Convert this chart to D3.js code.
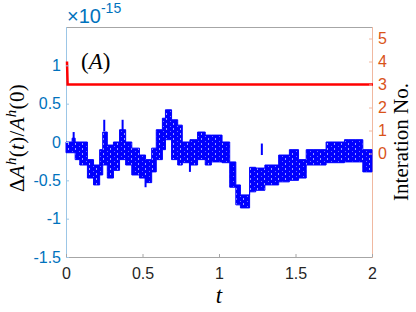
<!DOCTYPE html>
<html lang="en">
<head>
<meta charset="UTF-8">
<title>Delta A over time</title>
<script src="https://d3js.org/d3.v7.min.js"></script>
<style>
  body { margin: 0; background: #fff; }
  svg { display: block; }
  .tick text { font-family: "Liberation Sans", Arial, sans-serif; font-size: 16px; }
  .serif { font-family: "Liberation Serif", "DejaVu Serif", serif; }
</style>
</head>
<body>
<div id="chart"></div>
<script>
// blue series, in units of 1e-15: step segments starting at tStart, band between hi and lo
const tStart = [0, 0.04, 0.06, 0.09, 0.14, 0.18, 0.22, 0.24, 0.27, 0.31,
                0.35, 0.39, 0.43, 0.48, 0.52, 0.56, 0.59, 0.63, 0.65, 0.69,
                0.73, 0.76, 0.81, 0.86, 0.91, 0.95, 1.02, 1.07, 1.11, 1.14,
                1.2, 1.24, 1.3, 1.39, 1.46, 1.52, 1.57, 1.7, 1.82, 1.94];
const hi = [0, 0.05, 0, 0, -0.23, -0.3, -0.1, 0.13, -0.04, 0,
            0.16, 0, -0.08, -0.17, -0.23, -0.08, 0.16, 0.31, 0.42, 0.29,
            0.22, 0, 0.03, 0.13, 0.09, 0.09, 0, -0.26, -0.56, -0.69,
            -0.33, -0.34, -0.3, -0.17, -0.1, -0.23, -0.1, 0, 0.03, -0.1];
const lo = [-0.14, -0.14, -0.23, -0.3, -0.47, -0.56, -0.43, -0.3, -0.47, -0.37,
            -0.23, -0.3, -0.43, -0.47, -0.53, -0.39, -0.23, -0.1, 0.03, -0.23,
            -0.3, -0.27, -0.3, -0.23, -0.3, -0.26, -0.27, -0.59, -0.82, -0.86,
            -0.65, -0.63, -0.56, -0.52, -0.5, -0.47, -0.3, -0.27, -0.26, -0.39];
// isolated spikes
const spikeT = [0.05, 0.25, 0.37, 0.52, 0.81, 1.28];
const spikeV = [0.13, 0.29, 0.29, -0.59, -0.39, -0.17];

// red series: iteration number
const iterT = [0, 0.004, 2];
const iterN = [4, 3, 3];

const xTicks = [0, 0.5, 1, 1.5, 2];
const leftTicks = [-1.5, -1, -0.5, 0, 0.5, 1];
const rightTicks = [0, 1, 2, 3, 4, 5];

const W = 416, H = 312;
const plot = { left: 66, right: 372, top: 27, bottom: 257 };
const blueAx = "#0072BD", redAx = "#D95319";

const svg = d3.select("#chart").append("svg")
  .attr("width", W).attr("height", H);

// speckled fill so the band looks like many overlapping strokes
const pat = svg.append("defs").append("pattern")
  .attr("id", "speckle")
  .attr("patternUnits", "userSpaceOnUse")
  .attr("width", 7).attr("height", 5);
pat.append("rect").attr("width", 7).attr("height", 5).attr("fill", "#0000ff");
pat.append("rect").attr("x", 2).attr("y", 1).attr("width", 1).attr("height", 1).attr("fill", "#7070ff");
pat.append("rect").attr("x", 5).attr("y", 3).attr("width", 1).attr("height", 2).attr("fill", "#a0a0ff");

const x = d3.scaleLinear().domain([0, 2]).range([plot.left, plot.right]);
const yL = d3.scaleLinear().domain([-1.5, 1.5]).range([plot.bottom, plot.top]);
const yR = d3.scaleLinear().domain([-4.5, 5.5]).range([plot.bottom, plot.top]);

// box lines (under the data)
svg.append("line").attr("x1", plot.left).attr("x2", plot.right)
  .attr("y1", plot.top + 0.5).attr("y2", plot.top + 0.5).attr("stroke", "#a6a6a6");
svg.append("line").attr("x1", plot.left).attr("x2", plot.right)
  .attr("y1", plot.bottom + 0.5).attr("y2", plot.bottom + 0.5).attr("stroke", "#a6a6a6");
svg.append("line").attr("x1", plot.left + 0.5).attr("x2", plot.left + 0.5)
  .attr("y1", plot.top).attr("y2", plot.bottom + 1).attr("stroke", "#9cc6e6");
svg.append("line").attr("x1", plot.right + 0.5).attr("x2", plot.right + 0.5)
  .attr("y1", plot.top).attr("y2", plot.bottom + 1).attr("stroke", "#f0b8a0");

// blue band
const rows = tStart.map((t, i) => ({ t: t, hi: hi[i], lo: lo[i] }));
rows.push({ t: 2, hi: hi[hi.length - 1], lo: lo[lo.length - 1] });

const area = d3.area()
  .curve(d3.curveStepAfter)
  .x(d => x(d.t))
  .y0(d => yL(d.lo))
  .y1(d => yL(d.hi));

svg.append("path")
  .datum(rows)
  .attr("fill", "url(#speckle)")
  .attr("stroke", "#0000ff")
  .attr("stroke-width", 1)
  .attr("d", area);

svg.selectAll(".spike")
  .data(spikeT.map((t, i) => ({ t: t, v: spikeV[i] })))
  .enter().append("line")
  .attr("class", "spike")
  .attr("x1", d => x(d.t)).attr("x2", d => x(d.t))
  .attr("y1", d => yL(d.v)).attr("y2", d => yL(d.v < 0 ? d.v + 0.15 : d.v - 0.15))
  .attr("stroke", "#0000ff")
  .attr("stroke-width", 2);

// red line
const redLine = d3.line().x((d, i) => x(iterT[i]) + 1).y(d => yR(d));
svg.append("path")
  .datum(iterN)
  .attr("fill", "none")
  .attr("stroke", "#ff0000")
  .attr("stroke-width", 2.5)
  .attr("d", redLine);

// axes
const fmt = d => String(d);

const gx = svg.append("g")
  .attr("transform", `translate(0,${plot.bottom})`)
  .call(d3.axisBottom(x).tickValues(xTicks).tickFormat(fmt).tickSize(-3).tickPadding(11));
gx.select(".domain").remove();
gx.selectAll(".tick line").attr("stroke", "#a6a6a6");
gx.selectAll(".tick text").attr("fill", "#262626");

const gl = svg.append("g")
  .attr("transform", `translate(${plot.left},0)`)
  .call(d3.axisLeft(yL).tickValues(leftTicks).tickFormat(fmt).tickSize(-3).tickPadding(5));
gl.select(".domain").remove();
gl.selectAll(".tick line").attr("stroke", "#9cc6e6");
gl.selectAll(".tick text").attr("fill", blueAx);

const gr = svg.append("g")
  .attr("transform", `translate(${plot.right},0)`)
  .call(d3.axisRight(yR).tickValues(rightTicks).tickFormat(fmt).tickSize(-3).tickPadding(6));
gr.select(".domain").remove();
gr.selectAll(".tick line").attr("stroke", "#f0b8a0");
gr.selectAll(".tick text").attr("fill", redAx);

// exponent
const ex = svg.append("text")
  .attr("x", 67).attr("y", 23)
  .attr("fill", blueAx)
  .style("font-family", "'Liberation Sans', Arial, sans-serif")
  .style("font-size", "20px");
ex.append("tspan").text("×10");
ex.append("tspan").attr("dy", -10).style("font-size", "14px").text("-15");

// panel tag
const tag = svg.append("text")
  .attr("class", "serif")
  .attr("x", 81).attr("y", 69)
  .attr("font-size", 23);
tag.append("tspan").text("(");
tag.append("tspan").attr("font-style", "italic").text("A");
tag.append("tspan").text(")");

// x label
svg.append("text")
  .attr("class", "serif")
  .attr("x", x(1)).attr("y", 303)
  .attr("text-anchor", "middle")
  .attr("font-size", 23)
  .attr("font-style", "italic")
  .text("t");

// left y label
const yl = svg.append("text")
  .attr("class", "serif")
  .attr("transform", `translate(24,${(plot.top + plot.bottom) / 2 - 4}) rotate(-90)`)
  .attr("text-anchor", "middle")
  .attr("letter-spacing", 0.3)
  .attr("font-size", 21);
yl.append("tspan").text("Δ");
yl.append("tspan").attr("font-style", "italic").text("A");
yl.append("tspan").attr("dy", -8).attr("font-size", 15).attr("font-style", "italic").text("h");
yl.append("tspan").attr("dy", 8).text("(");
yl.append("tspan").attr("font-style", "italic").text("t");
yl.append("tspan").text(")/");
yl.append("tspan").attr("font-style", "italic").text("A");
yl.append("tspan").attr("dy", -8).attr("font-size", 15).attr("font-style", "italic").text("h");
yl.append("tspan").attr("dy", 8).text("(0)");

// right y label
svg.append("text")
  .attr("class", "serif")
  .attr("transform", `translate(408,${(plot.top + plot.bottom) / 2}) rotate(-90)`)
  .attr("text-anchor", "middle")
  .attr("font-size", 21)
  .text("Interation No.");
</script>
</body>
</html>
